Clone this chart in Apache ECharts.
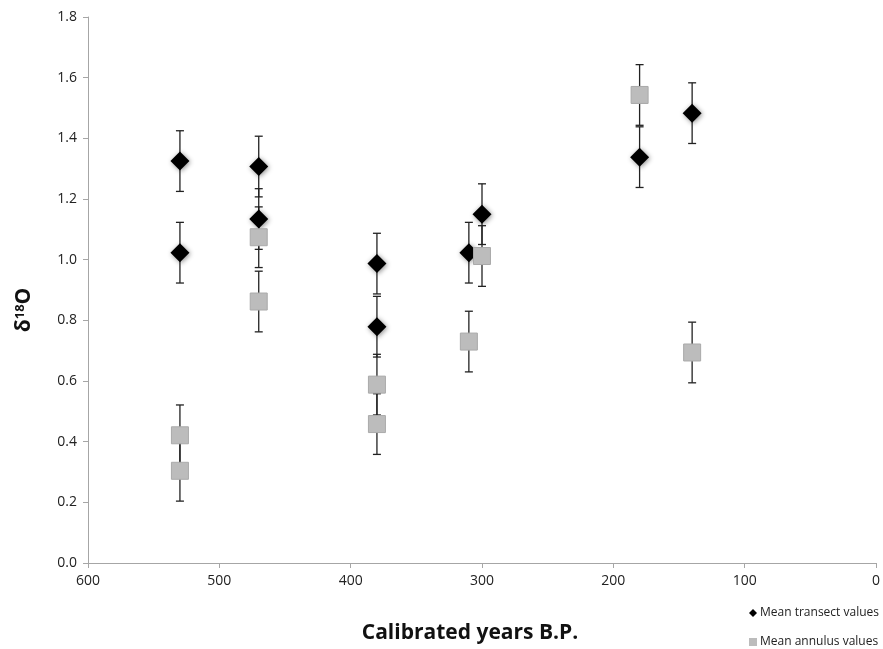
<!DOCTYPE html>
<html><head><meta charset="utf-8">
<script src="https://cdn.jsdelivr.net/npm/echarts@6/dist/echarts.min.js"></script>
<style>html,body{margin:0;padding:0;background:#fff}#c{width:883px;height:649px}</style>
</head><body><div id="c"></div>
<script>
// Calibrated years B.P.
const transectYears = [530, 530, 470, 470, 380, 380, 310, 300, 180, 140];
const transectValues = [1.325, 1.023, 1.307, 1.134, 0.987, 0.779, 1.023, 1.15, 1.338, 1.483];
const transectErr = [0.1, 0.1, 0.1, 0.1, 0.1, 0.1, 0.1, 0.1, 0.1, 0.1];
const annulusYears = [530, 530, 470, 470, 380, 380, 310, 300, 180, 140];
const annulusValues = [0.421, 0.304, 1.074, 0.862, 0.588, 0.458, 0.73, 1.012, 1.543, 0.694];
const annulusErr = [0.1, 0.1, 0.1, 0.1, 0.1, 0.1, 0.1, 0.1, 0.1, 0.1];
const xTicks = [0, 100, 200, 300, 400, 500, 600];
const yTicks = [0, 0.2, 0.4, 0.6, 0.8, 1.0, 1.2, 1.4, 1.6, 1.8];

const FONT = 'Open Sans';
const chart = echarts.init(document.getElementById('c'));

function errData(xs, ys, es) {
  return xs.map((x, i) => [x, ys[i] - es[i], ys[i] + es[i]]);
}
function errSeries(data, z) {
  return {
    type: 'custom', z: z, silent: true,
    renderItem: function (params, api) {
      const x = api.value(0);
      const lo = api.coord([x, api.value(1)]);
      const hi = api.coord([x, api.value(2)]);
      const w = 4;
      const st = { stroke: '#222', lineWidth: 1.3 };
      return { type: 'group', children: [
        { type: 'line', shape: { x1: lo[0], y1: lo[1], x2: hi[0], y2: hi[1] }, style: st },
        { type: 'line', shape: { x1: lo[0] - w, y1: lo[1], x2: lo[0] + w, y2: lo[1] }, style: st },
        { type: 'line', shape: { x1: hi[0] - w, y1: hi[1], x2: hi[0] + w, y2: hi[1] }, style: st }
      ]};
    },
    encode: { x: 0, y: [1, 2] },
    data: data
  };
}

chart.setOption({
  animation: false,
  textStyle: { fontFamily: FONT },
  grid: { left: 88, right: 6, top: 17, bottom: 86 },
  xAxis: {
    type: 'value', inverse: true, min: 0, max: 600, interval: 100,
    axisLine: { onZero: false, lineStyle: { color: '#a6a6a6', width: 1 } },
    axisTick: { show: true, length: 5, lineStyle: { color: '#a6a6a6' } },
    splitLine: { show: false },
    axisLabel: { color: '#222', fontSize: 14, margin: 11, fontFamily: FONT,
      formatter: v => xTicks.includes(v) ? String(v) : '' }
  },
  yAxis: {
    type: 'value', min: 0, max: 1.8, interval: 0.2, position: 'left',
    axisLine: { show: true, onZero: false, lineStyle: { color: '#a6a6a6', width: 1 } },
    axisTick: { show: true, length: 5, lineStyle: { color: '#a6a6a6' } },
    splitLine: { show: false },
    axisLabel: { color: '#222', fontSize: 14, margin: 11, fontFamily: FONT,
      formatter: v => { const t = yTicks.find(k => Math.abs(k - v) < 1e-6); return t === undefined ? '' : t.toFixed(1); } }
  },
  legend: {
    orient: 'vertical', left: 749, top: 606, itemGap: 15, itemWidth: 8, itemHeight: 8, padding: 0,
    textStyle: { fontSize: 12, color: '#222', fontFamily: FONT, lineHeight: 14, padding: [0, 0, 0, -2] },
    data: [
      { name: 'Mean transect values', icon: 'diamond', itemStyle: { shadowBlur: 0, borderWidth: 0 } },
      { name: 'Mean annulus values', icon: 'rect', itemStyle: { borderWidth: 0 } }
    ]
  },
  graphic: [
    {
      type: 'text', x: 470, y: 633,
      style: { text: 'Calibrated years B.P.', font: 'bold 21px "Open Sans"', fill: '#111', align: 'center', verticalAlign: 'middle' }
    },
    {
      type: 'text', x: 24, y: 310, rotation: Math.PI / 2,
      style: {
        text: '{a|δ}{b|18}{a|O}', align: 'center', verticalAlign: 'middle',
        rich: {
          a: { fontSize: 21, fontWeight: 'bold', fill: '#111', fontFamily: FONT },
          b: { fontSize: 13, fontWeight: 'bold', fill: '#111', fontFamily: FONT, verticalAlign: 'top', padding: [0, 0, 8, 0] }
        }
      }
    }
  ],
  series: [
    errSeries(errData(transectYears, transectValues, transectErr), 1),
    errSeries(errData(annulusYears, annulusValues, annulusErr), 1),
    {
      name: 'Mean transect values', type: 'scatter', z: 3,
      symbol: 'diamond', symbolSize: [19, 19],
      itemStyle: { color: '#000', opacity: 1, shadowBlur: 5, shadowColor: 'rgba(0,0,0,0.45)', shadowOffsetX: 1, shadowOffsetY: 1 },
      data: transectYears.map((x, i) => [x, transectValues[i]])
    },
    {
      name: 'Mean annulus values', type: 'scatter', z: 4,
      symbol: 'rect', symbolSize: [17, 17],
      itemStyle: { color: '#bcbcbc', opacity: 1, borderColor: '#aaaaaa', borderWidth: 1 },
      data: annulusYears.map((x, i) => [x, annulusValues[i]])
    }
  ]
});
</script></body></html>
